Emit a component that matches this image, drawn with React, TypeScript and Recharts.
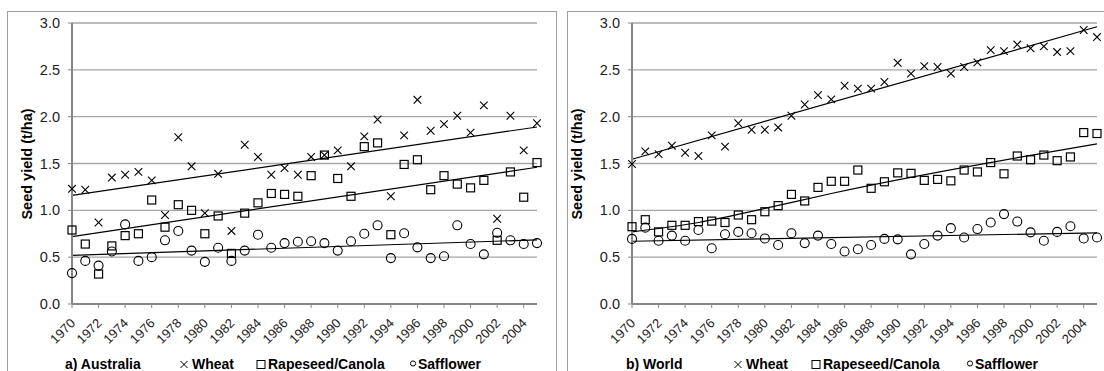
import React from "react"
import { ComposedChart, Line, XAxis, YAxis, CartesianGrid } from "recharts"

const years = [
  1970, 1971, 1972, 1973, 1974, 1975, 1976, 1977, 1978, 1979,
  1980, 1981, 1982, 1983, 1984, 1985, 1986, 1987, 1988, 1989,
  1990, 1991, 1992, 1993, 1994, 1995, 1996, 1997, 1998, 1999,
  2000, 2001, 2002, 2003, 2004, 2005,
]
const yearTicks = [1970, 1972, 1974, 1976, 1978, 1980, 1982, 1984, 1986, 1988, 1990, 1992, 1994, 1996, 1998, 2000, 2002, 2004]
const yieldTicks = [0, 0.5, 1, 1.5, 2, 2.5, 3]

// a) Australia, t/ha
const ausWheat = [
  1.23, 1.22, 0.87, 1.35, 1.38, 1.41, 1.32, 0.95, 1.78, 1.47,
  0.97, 1.39, 0.78, 1.7, 1.57, 1.38, 1.45, 1.38, 1.57, 1.59,
  1.64, 1.47, 1.79, 1.97, 1.15, 1.8, 2.18, 1.85, 1.92, 2.01,
  1.83, 2.12, 0.91, 2.01, 1.64, 1.93,
]
const ausRape = [
  0.79, 0.64, 0.32, 0.62, 0.73, 0.75, 1.11, 0.82, 1.06, 1.0,
  0.75, 0.94, 0.54, 0.97, 1.08, 1.18, 1.17, 1.15, 1.37, 1.59,
  1.34, 1.15, 1.68, 1.72, 0.74, 1.49, 1.54, 1.22, 1.37, 1.28,
  1.24, 1.32, 0.68, 1.41, 1.14, 1.51,
]
const ausSaff = [
  0.33, 0.46, 0.41, 0.56, 0.85, 0.46, 0.5, 0.68, 0.78, 0.57,
  0.45, 0.6, 0.46, 0.57, 0.74, 0.6, 0.65, 0.665, 0.67, 0.65,
  0.57, 0.67, 0.75, 0.84, 0.49, 0.755, 0.605, 0.49, 0.51, 0.84,
  0.64, 0.53, 0.76, 0.68, 0.64, 0.65,
]

// b) World, t/ha
const worldWheat = [
  1.495, 1.63, 1.6, 1.69, 1.615, 1.58, 1.8, 1.68, 1.93, 1.86,
  1.86, 1.885, 2.01, 2.13, 2.23, 2.185, 2.33, 2.3, 2.3, 2.37,
  2.575, 2.46, 2.54, 2.53, 2.46, 2.53, 2.58, 2.71, 2.7, 2.77,
  2.73, 2.75, 2.69, 2.7, 2.925, 2.85,
]
const worldRape = [
  0.825, 0.9, 0.77, 0.84, 0.84, 0.88, 0.885, 0.87, 0.95, 0.9,
  0.985, 1.05, 1.17, 1.1, 1.245, 1.31, 1.31, 1.43, 1.235, 1.305,
  1.4, 1.395, 1.32, 1.33, 1.315, 1.43, 1.41, 1.51, 1.39, 1.58,
  1.54, 1.59, 1.53, 1.57, 1.83, 1.82,
]
const worldSaff = [
  0.695, 0.815, 0.675, 0.73, 0.675, 0.79, 0.595, 0.745, 0.77, 0.755,
  0.7, 0.63, 0.755, 0.65, 0.73, 0.64, 0.56, 0.585, 0.63, 0.695,
  0.69, 0.53, 0.64, 0.73, 0.81, 0.71, 0.8, 0.87, 0.96, 0.88,
  0.765, 0.675, 0.77, 0.83, 0.7, 0.71,
]

// trend lines at the given years
const trendYears = [1970, 2005]
const ausWheatTrend = [1.16, 1.89]
const ausRapeTrend = [0.72, 1.46]
const ausSaffTrend = [0.52, 0.685]
const worldWheatTrend = [1.545, 2.96]
const worldSaffTrend = [0.67, 0.76]
const worldRapeTrendYears = [1970, 1975, 1980, 1985, 2005]
const worldRapeTrend = [0.77, 0.87, 1.02, 1.18, 1.71]

const pick = (ys: number[], vals: number[], year: number) => {
  const i = ys.indexOf(year)
  return i < 0 ? null : vals[i]
}

const ausRows = years.map((year, i) => ({
  year,
  wheat: ausWheat[i],
  rape: ausRape[i],
  saff: ausSaff[i],
  wheatTrend: pick(trendYears, ausWheatTrend, year),
  rapeTrend: pick(trendYears, ausRapeTrend, year),
  saffTrend: pick(trendYears, ausSaffTrend, year),
}))

const worldRows = years.map((year, i) => ({
  year,
  wheat: worldWheat[i],
  rape: worldRape[i],
  saff: worldSaff[i],
  wheatTrend: pick(trendYears, worldWheatTrend, year),
  rapeTrend: pick(worldRapeTrendYears, worldRapeTrend, year),
  saffTrend: pick(trendYears, worldSaffTrend, year),
}))

const FONT = '"Liberation Sans", Arial, sans-serif'
const GRID = "#a6a6a6"
const AXIS = "#868686"

const CrossDot = (props: any) => {
  const { cx, cy, index } = props
  if (cx == null || cy == null) return <g key={`x${index}`} />
  const s = 3.8
  return (
    <path
      key={`x${index}`}
      d={`M${cx - s},${cy - s}L${cx + s},${cy + s}M${cx - s},${cy + s}L${cx + s},${cy - s}`}
      stroke="#000"
      strokeWidth={1.1}
      fill="none"
    />
  )
}

const SquareDot = (props: any) => {
  const { cx, cy, index } = props
  if (cx == null || cy == null) return <g key={`s${index}`} />
  return <rect key={`s${index}`} x={cx - 4} y={cy - 4} width={8} height={8} stroke="#000" strokeWidth={1.2} fill="none" />
}

const CircleDot = (props: any) => {
  const { cx, cy, index } = props
  if (cx == null || cy == null) return <g key={`c${index}`} />
  return <circle key={`c${index}`} cx={cx} cy={cy} r={4.5} stroke="#000" strokeWidth={1.1} fill="none" />
}

const YearTick = ({ x, y, payload }: any) => (
  <text
    transform={`translate(${x + 4},${y + 16}) rotate(-45)`}
    textAnchor="end"
    fontSize={13}
    fontFamily={FONT}
    fill="#222"
  >
    {payload.value}
  </text>
)

function Panel({ rows, left }: { rows: any[]; left: number }) {
  return (
    <div style={{ position: "absolute", left, top: 0 }}>
      <ComposedChart width={557} height={371} data={rows} margin={{ top: 23, right: 20, bottom: 0, left: 22 }}>
        <CartesianGrid vertical={false} stroke={GRID} strokeWidth={1.3} />
        <XAxis
          dataKey="year"
          type="number"
          domain={[1970, 2005]}
          ticks={yearTicks}
          interval={0}
          height={67}
          tick={<YearTick />}
          tickSize={4}
          tickMargin={0}
          axisLine={{ stroke: AXIS, strokeWidth: 2 }}
          tickLine={{ stroke: AXIS }}
        />
        <YAxis
          type="number"
          domain={[0, 3]}
          ticks={yieldTicks}
          width={50}
          tickSize={4}
          tickMargin={8}
          tickFormatter={(v: number) => v.toFixed(1)}
          tick={{ fontSize: 14.5, fill: "#222", fontFamily: FONT }}
          axisLine={{ stroke: AXIS, strokeWidth: 2 }}
          tickLine={{ stroke: AXIS }}
        />
        <Line dataKey="wheatTrend" type="linear" connectNulls stroke="#000" strokeWidth={1.2} dot={false} isAnimationActive={false} />
        <Line dataKey="rapeTrend" type="monotone" connectNulls stroke="#000" strokeWidth={1.2} dot={false} isAnimationActive={false} />
        <Line dataKey="saffTrend" type="linear" connectNulls stroke="#000" strokeWidth={1.2} dot={false} isAnimationActive={false} />
        <Line dataKey="wheat" stroke="none" dot={CrossDot} activeDot={false} isAnimationActive={false} />
        <Line dataKey="rape" stroke="none" dot={SquareDot} activeDot={false} isAnimationActive={false} />
        <Line dataKey="saff" stroke="none" dot={CircleDot} activeDot={false} isAnimationActive={false} />
      </ComposedChart>
    </div>
  )
}

function Legend({ title, titleX, crossX, squareX, circleX }: any) {
  const y = 369
  const my = 364.5
  return (
    <g fontFamily={FONT} fontWeight="bold" fontSize={14} fill="#000">
      <text x={titleX} y={y}>{title}</text>
      <path d={`M${crossX - 3.5},${my - 3.5}L${crossX + 3.5},${my + 3.5}M${crossX - 3.5},${my + 3.5}L${crossX + 3.5},${my - 3.5}`} stroke="#000" strokeWidth={1} />
      <text x={crossX + 8} y={y}>Wheat</text>
      <rect x={squareX - 4} y={my - 4} width={8} height={8} stroke="#000" strokeWidth={1} fill="none" />
      <text x={squareX + 7} y={y}>Rapeseed/Canola</text>
      <circle cx={circleX} cy={my - 1} r={2.6} stroke="#000" strokeWidth={1} fill="none" />
      <text x={circleX + 5} y={y}>Safflower</text>
    </g>
  )
}

export default function App() {
  return (
    <div style={{ position: "absolute", left: 0, top: 0, width: 1104, height: 371, overflow: "hidden", background: "#fff", fontFamily: FONT }}>
      <Panel rows={ausRows} left={0} />
      <Panel rows={worldRows} left={560} />
      <svg width={1104} height={371} style={{ position: "absolute", left: 0, top: 0, pointerEvents: "none" }}>
        <rect x={7.5} y={11.5} width={549} height={400} fill="none" stroke="#a0a0a0" strokeWidth={1} />
        <rect x={567.5} y={11.5} width={560} height={400} fill="none" stroke="#a0a0a0" strokeWidth={1} />
        <text transform="translate(32,164) rotate(-90)" textAnchor="middle" fontFamily={FONT} fontWeight="bold" fontSize={14.5}>
          Seed yield (t/ha)
        </text>
        <text transform="translate(582,164) rotate(-90)" textAnchor="middle" fontFamily={FONT} fontWeight="bold" fontSize={14.5}>
          Seed yield (t/ha)
        </text>
        <Legend title="a) Australia" titleX={65} crossX={184} squareX={261} circleX={413} />
        <Legend title="b) World" titleX={626} crossX={738} squareX={816} circleX={970} />
      </svg>
    </div>
  )
}
